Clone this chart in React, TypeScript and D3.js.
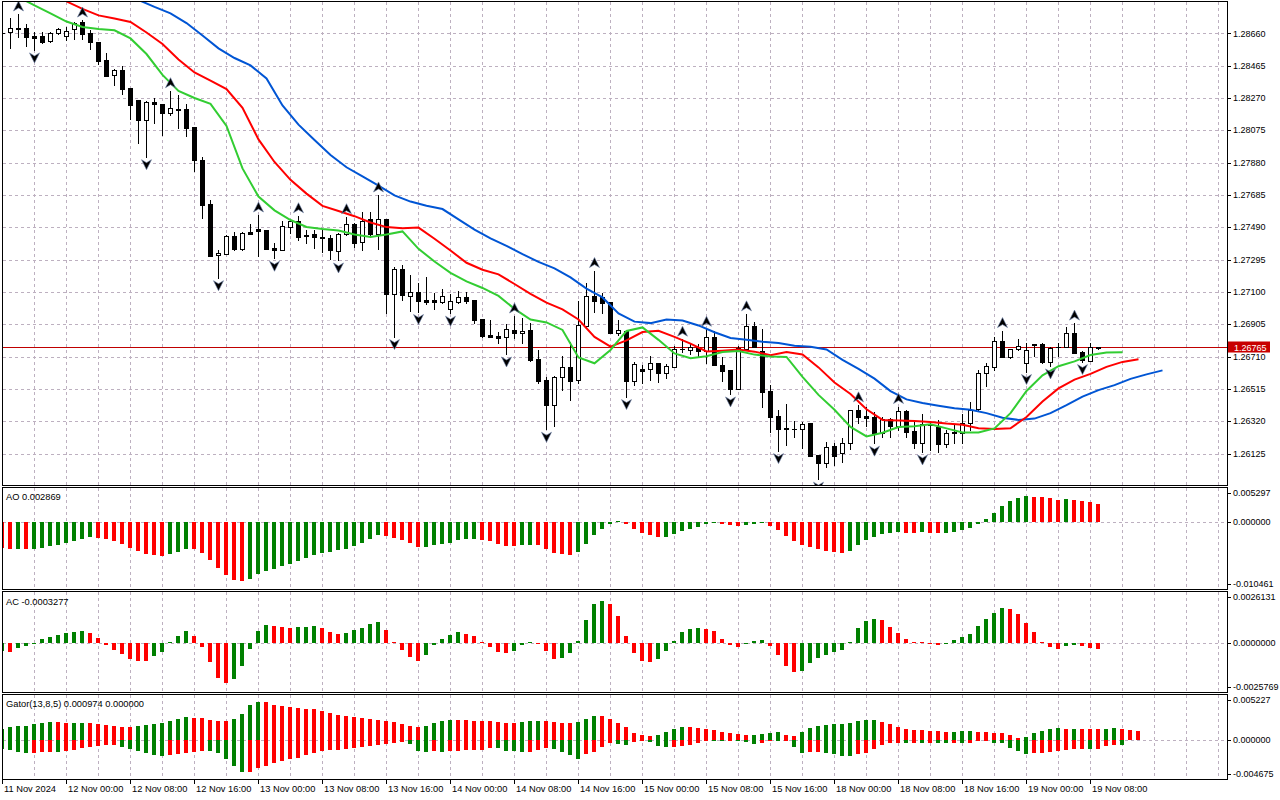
import React from "react";
import * as d3 from "d3";

// H1 bars, 11 Nov 16:00 .. 19 Nov 09:00
const opens = [
  1.28664, 1.28666, 1.28690, 1.28690, 1.28644, 1.28642, 1.28612, 1.28660, 1.28644, 1.28684,
  1.28728, 1.28662, 1.28608, 1.28499, 1.28407, 1.28439, 1.28330, 1.28258, 1.28136, 1.28246,
  1.28234, 1.28181, 1.28204, 1.28204, 1.28095, 1.27896, 1.27631, 1.27322, 1.27331, 1.27438,
  1.27358, 1.27462, 1.27480, 1.27474, 1.27366, 1.27355, 1.27494, 1.27528, 1.27436, 1.27450,
  1.27430, 1.27426, 1.27349, 1.27450, 1.27510, 1.27400, 1.27539, 1.27448, 1.27539, 1.27088,
  1.27239, 1.27078, 1.27098, 1.27052, 1.27052, 1.27038, 1.26998, 1.27042, 1.27068, 1.27052,
  1.26937, 1.26839, 1.26835, 1.26827, 1.26869, 1.26851, 1.26869, 1.26696, 1.26570, 1.26421,
  1.26586, 1.26646, 1.26568, 1.26895, 1.27076, 1.27068, 1.27040, 1.26855, 1.26867, 1.26565,
  1.26636, 1.26634, 1.26672, 1.26614, 1.26646, 1.26755, 1.26750, 1.26770, 1.26746, 1.26827,
  1.26658, 1.26630, 1.26515, 1.26758, 1.26895, 1.26746, 1.26503, 1.26352, 1.26276, 1.26272,
  1.26272, 1.26309, 1.26117, 1.26067, 1.26172, 1.26128, 1.26188, 1.26389, 1.26352, 1.26345,
  1.26252, 1.26333, 1.26292, 1.26381, 1.26260, 1.26188, 1.26301, 1.26288, 1.26184, 1.26256,
  1.26252, 1.26312, 1.26393, 1.26610, 1.26650, 1.26807, 1.26710, 1.26755, 1.26670, 1.26785,
  1.26785, 1.26680, 1.26767, 1.26767, 1.26851, 1.26740, 1.26686, 1.26764,
];
const highs = [
  1.28674, 1.28751, 1.28777, 1.28714, 1.28666, 1.28666, 1.28668, 1.28690, 1.28696, 1.28730,
  1.28740, 1.28680, 1.28608, 1.28543, 1.28443, 1.28463, 1.28330, 1.28258, 1.28254, 1.28268,
  1.28234, 1.28314, 1.28288, 1.28232, 1.28097, 1.27916, 1.27655, 1.27354, 1.27444, 1.27464,
  1.27464, 1.27510, 1.27564, 1.27474, 1.27394, 1.27528, 1.27540, 1.27560, 1.27474, 1.27474,
  1.27474, 1.27444, 1.27454, 1.27554, 1.27514, 1.27584, 1.27583, 1.27685, 1.27539, 1.27253,
  1.27263, 1.27203, 1.27153, 1.27192, 1.27096, 1.27116, 1.27086, 1.27108, 1.27098, 1.27052,
  1.26937, 1.26931, 1.26861, 1.26907, 1.26955, 1.26942, 1.26915, 1.26750, 1.26590, 1.26594,
  1.26714, 1.26799, 1.27044, 1.27156, 1.27229, 1.27092, 1.27040, 1.26931, 1.26867, 1.26680,
  1.26660, 1.26714, 1.26672, 1.26666, 1.26775, 1.26815, 1.26787, 1.26787, 1.26875, 1.26867,
  1.26710, 1.26630, 1.26775, 1.26968, 1.26921, 1.26875, 1.26539, 1.26389, 1.26425, 1.26324,
  1.26318, 1.26312, 1.26117, 1.26192, 1.26188, 1.26218, 1.26389, 1.26419, 1.26409, 1.26378,
  1.26348, 1.26342, 1.26409, 1.26385, 1.26318, 1.26365, 1.26318, 1.26328, 1.26268, 1.26298,
  1.26365, 1.26435, 1.26630, 1.26670, 1.26831, 1.26867, 1.26755, 1.26815, 1.26794, 1.26785,
  1.26794, 1.26770, 1.26794, 1.26891, 1.26912, 1.26746, 1.26794, 1.26770,
];
const lows = [
  1.28650, 1.28573, 1.28640, 1.28585, 1.28560, 1.28600, 1.28608, 1.28658, 1.28620, 1.28624,
  1.28624, 1.28567, 1.28473, 1.28404, 1.28350, 1.28294, 1.28145, 1.28001, 1.27916, 1.28121,
  1.28047, 1.28168, 1.28089, 1.28043, 1.27830, 1.27548, 1.27317, 1.27186, 1.27328, 1.27354,
  1.27354, 1.27452, 1.27317, 1.27361, 1.27303, 1.27354, 1.27454, 1.27414, 1.27398, 1.27367,
  1.27343, 1.27297, 1.27293, 1.27444, 1.27373, 1.27354, 1.27434, 1.27361, 1.26972, 1.26831,
  1.27052, 1.26988, 1.26982, 1.27028, 1.26998, 1.27032, 1.26972, 1.27032, 1.27032, 1.26915,
  1.26827, 1.26827, 1.26794, 1.26726, 1.26823, 1.26794, 1.26686, 1.26553, 1.26272, 1.26292,
  1.26509, 1.26449, 1.26553, 1.26887, 1.26981, 1.26972, 1.26851, 1.26841, 1.26469, 1.26539,
  1.26550, 1.26570, 1.26559, 1.26583, 1.26646, 1.26740, 1.26726, 1.26714, 1.26670, 1.26662,
  1.26565, 1.26485, 1.26515, 1.26758, 1.26767, 1.26405, 1.26258, 1.26143, 1.26178, 1.26228,
  1.26157, 1.26113, 1.25971, 1.26043, 1.26057, 1.26077, 1.26152, 1.26309, 1.26292, 1.26188,
  1.26228, 1.26228, 1.26268, 1.26228, 1.26158, 1.26135, 1.26148, 1.26137, 1.26167, 1.26188,
  1.26188, 1.26268, 1.26389, 1.26533, 1.26630, 1.26710, 1.26700, 1.26750, 1.26620, 1.26714,
  1.26670, 1.26654, 1.26714, 1.26767, 1.26731, 1.26680, 1.26684, 1.26755,
];
const closes = [
  1.28662, 1.28690, 1.28687, 1.28636, 1.28634, 1.28610, 1.28662, 1.28684, 1.28672, 1.28724,
  1.28658, 1.28606, 1.28495, 1.28404, 1.28439, 1.28326, 1.28230, 1.28136, 1.28246, 1.28232,
  1.28181, 1.28208, 1.28200, 1.28091, 1.27896, 1.27627, 1.27317, 1.27334, 1.27438, 1.27358,
  1.27458, 1.27452, 1.27470, 1.27361, 1.27355, 1.27498, 1.27528, 1.27434, 1.27446, 1.27430,
  1.27428, 1.27354, 1.27450, 1.27510, 1.27398, 1.27530, 1.27448, 1.27539, 1.27086, 1.27239,
  1.27079, 1.27098, 1.27048, 1.27038, 1.27038, 1.27076, 1.27046, 1.27068, 1.27048, 1.26931,
  1.26835, 1.26829, 1.26823, 1.26877, 1.26851, 1.26865, 1.26690, 1.26565, 1.26421, 1.26588,
  1.26646, 1.26565, 1.26899, 1.27076, 1.27048, 1.27036, 1.26855, 1.26871, 1.26565, 1.26666,
  1.26624, 1.26672, 1.26614, 1.26652, 1.26755, 1.26753, 1.26770, 1.26746, 1.26827, 1.26662,
  1.26626, 1.26515, 1.26761, 1.26895, 1.26767, 1.26499, 1.26348, 1.26276, 1.26278, 1.26274,
  1.26303, 1.26113, 1.26067, 1.26164, 1.26113, 1.26188, 1.26389, 1.26348, 1.26342, 1.26248,
  1.26333, 1.26292, 1.26381, 1.26258, 1.26188, 1.26304, 1.26295, 1.26184, 1.26248, 1.26248,
  1.26309, 1.26389, 1.26610, 1.26654, 1.26807, 1.26710, 1.26755, 1.26775, 1.26750, 1.26783,
  1.26676, 1.26764, 1.26765, 1.26851, 1.26734, 1.26690, 1.26767, 1.26765,
];
const lastPrice = 1.26765;

// fractal bar indexes
const upFractals = [2, 10, 21, 32, 37, 43, 47, 64, 74, 85, 88, 93, 107, 112, 125, 134];
const downFractals = [4, 18, 27, 34, 42, 49, 52, 56, 63, 68, 78, 91, 97, 102, 109, 115, 128, 131, 135];

// alligator lines, every 2nd bar (already shifted forward)
const jawStart = 17;
const jaw = [
  1.28861, 1.28819, 1.28780, 1.28722, 1.28647, 1.28569, 1.28511, 1.28466, 1.28388, 1.28225,
  1.28109, 1.28016, 1.27926, 1.27852, 1.27797, 1.27741, 1.27682, 1.27645, 1.27620, 1.27600,
  1.27538, 1.27476, 1.27423, 1.27378, 1.27328, 1.27281, 1.27242, 1.27188, 1.27120, 1.27067,
  1.26971, 1.26921, 1.26912, 1.26934, 1.26928, 1.26898, 1.26857, 1.26822, 1.26811, 1.26800,
  1.26792, 1.26776, 1.26769, 1.26753, 1.26690, 1.26636, 1.26577, 1.26502, 1.26452, 1.26430,
  1.26414, 1.26399, 1.26390, 1.26369, 1.26341, 1.26328, 1.26336, 1.26369, 1.26417, 1.26469,
  1.26508, 1.26538, 1.26576, 1.26603, 1.26627,
];
const teethStart = 8;
const teeth = [
  1.28852, 1.28807, 1.28768, 1.28749, 1.28728, 1.28665, 1.28596, 1.28502, 1.28424, 1.28374,
  1.28324, 1.28210, 1.28020, 1.27884, 1.27776, 1.27693, 1.27619, 1.27588, 1.27557, 1.27519,
  1.27491, 1.27484, 1.27488, 1.27421, 1.27350, 1.27276, 1.27234, 1.27206, 1.27148, 1.27089,
  1.27035, 1.26995, 1.26934, 1.26829, 1.26770, 1.26808, 1.26858, 1.26866, 1.26829, 1.26788,
  1.26741, 1.26746, 1.26753, 1.26740, 1.26718, 1.26737, 1.26723, 1.26645, 1.26554, 1.26485,
  1.26392, 1.26328, 1.26325, 1.26322, 1.26316, 1.26306, 1.26299, 1.26278, 1.26273, 1.26278,
  1.26346, 1.26439, 1.26518, 1.26571, 1.26606, 1.26648, 1.26678, 1.26694,
];
const lipsStart = 2;
const lips = [
  1.28879, 1.28828, 1.28780, 1.28731, 1.28698, 1.28686, 1.28678, 1.28629, 1.28535, 1.28409,
  1.28312, 1.28270, 1.28234, 1.28101, 1.27845, 1.27675, 1.27592, 1.27534, 1.27492, 1.27480,
  1.27471, 1.27447, 1.27432, 1.27447, 1.27465, 1.27360, 1.27284, 1.27215, 1.27164, 1.27124,
  1.27076, 1.26998, 1.26934, 1.26916, 1.26871, 1.26705, 1.26670, 1.26750, 1.26865, 1.26886,
  1.26811, 1.26729, 1.26700, 1.26712, 1.26738, 1.26744, 1.26722, 1.26711, 1.26708, 1.26588,
  1.26479, 1.26389, 1.26286, 1.26229, 1.26251, 1.26285, 1.26290, 1.26302, 1.26277, 1.26253,
  1.26252, 1.26277, 1.26369, 1.26503, 1.26597, 1.26652, 1.26681, 1.26720, 1.26735, 1.26737,
];

const ao = [
  -0.004009, -0.004259, -0.004165, -0.004259, -0.004165, -0.004009, -0.003744, -0.003541, -0.003229, -0.002917,
  -0.002605, -0.002293, -0.002449, -0.002605, -0.003011, -0.003385, -0.004009, -0.004477, -0.004945, -0.005148,
  -0.005304, -0.004945, -0.004634, -0.004165, -0.004259, -0.004790, -0.005882, -0.007130, -0.008222, -0.009002,
  -0.009205, -0.008846, -0.008066, -0.007598, -0.007286, -0.006864, -0.006506, -0.006038, -0.005570, -0.005148,
  -0.004790, -0.004634, -0.004415, -0.004165, -0.003697, -0.003229, -0.002605, -0.001981, -0.002184, -0.002496,
  -0.002808, -0.003229, -0.003877, -0.003853, -0.003588, -0.003385, -0.003276, -0.002761, -0.002605, -0.002574,
  -0.002761, -0.002964, -0.003385, -0.003744, -0.003775, -0.003541, -0.003510, -0.003588, -0.004165, -0.004790,
  -0.004992, -0.005102, -0.004680, -0.003385, -0.001981, -0.001045, -0.000203, 0.000203, -0.000203, -0.001045,
  -0.001669, -0.001981, -0.002293, -0.002262, -0.001825, -0.001357, -0.000983, -0.000733, -0.000203, 0.000047,
  -0.000203, -0.000421, -0.000624, -0.000421, -0.000203, -0.000109, -0.000577, -0.001201, -0.002137, -0.002917,
  -0.003588, -0.003853, -0.004165, -0.004446, -0.004634, -0.004790, -0.004477, -0.003541, -0.002855, -0.002293,
  -0.001825, -0.001669, -0.001513, -0.001669, -0.001685, -0.001513, -0.001669, -0.001685, -0.001654, -0.001451,
  -0.001139, -0.000889, -0.000265, 0.000468, 0.001451, 0.002496, 0.003276, 0.003744, 0.004056, 0.004009,
  0.003900, 0.003744, 0.003479, 0.003588, 0.003541, 0.003276, 0.003167, 0.002869,
];

const ac = [
  -0.0004432, -0.0004536, -0.0002577, -0.0001392, 0.0000155, 0.0002062, 0.0003092, 0.0004278, 0.0005309, 0.0005824,
  0.0006185, 0.0005154, 0.0002577, -0.0000876, -0.0003969, -0.0006030, -0.0008607, -0.0009277, -0.0009638, -0.0007061,
  -0.0004999, 0.0000361, 0.0003608, 0.0006185, 0.0003608, -0.0002062, -0.0010153, -0.0018400, -0.0020977, -0.0018915,
  -0.0012215, -0.0002938, 0.0006339, 0.0009277, 0.0008762, 0.0008246, 0.0007731, 0.0008246, 0.0008401, 0.0008762,
  0.0007731, 0.0005824, 0.0004793, 0.0005309, 0.0006855, 0.0007731, 0.0009947, 0.0010978, 0.0006855, 0.0000515,
  -0.0003608, -0.0007216, -0.0009638, -0.0006185, -0.0000876, 0.0002062, 0.0004278, 0.0005824, 0.0004793, 0.0003608,
  0.0000515, -0.0002062, -0.0004639, -0.0005515, -0.0004123, -0.0000876, 0.0000515, -0.0000155, -0.0004123, -0.0008246,
  -0.0007731, -0.0005515, 0.0001031, 0.0011854, 0.0020255, 0.0021647, 0.0020255, 0.0013916, 0.0003608, -0.0005154,
  -0.0009638, -0.0009690, -0.0008246, -0.0004123, 0.0001031, 0.0005669, 0.0007216, 0.0007731, 0.0007216, 0.0006185,
  0.0002062, -0.0000876, -0.0002062, -0.0000361, 0.0001031, 0.0001546, -0.0001546, -0.0006185, -0.0011854, -0.0014947,
  -0.0014431, -0.0010669, -0.0007731, -0.0006185, -0.0004999, -0.0003608, 0.0000670, 0.0007731, 0.0011339, 0.0012370,
  0.0011854, 0.0008246, 0.0005154, 0.0002062, 0.0000670, 0.0000618, -0.0000515, -0.0000876, -0.0000103, 0.0001546,
  0.0003092, 0.0004639, 0.0008762, 0.0012370, 0.0015462, 0.0018039, 0.0017524, 0.0014947, 0.0010308, 0.0005669,
  0.0000670, -0.0001907, -0.0002938, -0.0001392, -0.0000876, -0.0001392, -0.0002422, -0.0003277,
];

const gatorUp = [
  0.001297, 0.001497, 0.001568, 0.001568, 0.001804, 0.001921, 0.002039, 0.002039, 0.001921, 0.001921,
  0.001921, 0.001921, 0.001804, 0.001686, 0.001568, 0.001497, 0.001497, 0.001568, 0.001733, 0.001804,
  0.001921, 0.002157, 0.002440, 0.002629, 0.002558, 0.002558, 0.002275, 0.002157, 0.002157, 0.002440,
  0.003030, 0.004126, 0.004397, 0.004397, 0.004126, 0.004008, 0.003855, 0.003737, 0.003619, 0.003619,
  0.003336, 0.003147, 0.002864, 0.002747, 0.002629, 0.002558, 0.002440, 0.002358, 0.002157, 0.002039,
  0.001804, 0.001568, 0.001497, 0.001568, 0.001921, 0.002157, 0.002275, 0.002275, 0.002275, 0.002157,
  0.002157, 0.002157, 0.002039, 0.001921, 0.001921, 0.002039, 0.002157, 0.002157, 0.002157, 0.002039,
  0.001921, 0.001921, 0.002039, 0.002440, 0.002747, 0.002747, 0.002440, 0.001921, 0.001497, 0.000743,
  0.000507, 0.000389, 0.000507, 0.000861, 0.001214, 0.001450, 0.001450, 0.001332, 0.001214, 0.001096,
  0.000861, 0.000743, 0.000625, 0.000507, 0.000507, 0.000625, 0.000743, 0.000861, 0.000507, 0.000389,
  0.000861, 0.001332, 0.001568, 0.001686, 0.001804, 0.001804, 0.001921, 0.002157, 0.002275, 0.002275,
  0.002039, 0.001804, 0.001450, 0.001214, 0.001096, 0.001096, 0.000978, 0.000978, 0.000861, 0.000861,
  0.000978, 0.000978, 0.000861, 0.000861, 0.000743, 0.000743, 0.000507, 0.000153, 0.000271, 0.000743,
  0.000978, 0.001214, 0.001332, 0.001214, 0.001214, 0.001214, 0.001214, 0.001214, 0.001214, 0.001332,
  0.001214, 0.001096, 0.000974,
];
const gatorUpColors =
  "ggggggg" + "rrggrrrrrr" + "ggggggg" + "rrrrr" + "gggg" + "rrrrrrrrrrrrrrrrrrrr" + "gggg" +
  "rrrrrrrr" + "ggg" + "rrrr" + "ggg" + "rrrrrrr" + "gggg" + "rrrrrrrr" + "gggg" + "rr" +
  "gggggggggg" + "rrrrrrrrr" + "ggg" + "rrrrrr" + "ggggg" + "rgrrrggrrr";

const gatorDown = [
  -0.001061, -0.001261, -0.001450, -0.001568, -0.001568, -0.001450, -0.001450, -0.001450, -0.001379, -0.001179,
  -0.000978, -0.000861, -0.000790, -0.000625, -0.000625, -0.000861, -0.001096, -0.001379, -0.001568, -0.001886,
  -0.001969, -0.001886, -0.001768, -0.001568, -0.001450, -0.001379, -0.001379, -0.001650, -0.002275, -0.003147,
  -0.003855, -0.003855, -0.003336, -0.003147, -0.002747, -0.002558, -0.002358, -0.002157, -0.001886, -0.001568,
  -0.001379, -0.001261, -0.001179, -0.001096, -0.000978, -0.000861, -0.000707, -0.000625, -0.000507, -0.000389,
  -0.000318, -0.000507, -0.001379, -0.001450, -0.001379, -0.001450, -0.001379, -0.001379, -0.001261, -0.001261,
  -0.001179, -0.000978, -0.000978, -0.001379, -0.001379, -0.001450, -0.001450, -0.001179, -0.000978, -0.001096,
  -0.001450, -0.001886, -0.002275, -0.001768, -0.001450, -0.000861, -0.000389, -0.000507, -0.000625, -0.000318,
  -0.000200, -0.000271, -0.000743, -0.000861, -0.000861, -0.000743, -0.000625, -0.000389, -0.000200, -0.000083,
  -0.000083, -0.000083, -0.000200, -0.000271, -0.000507, -0.000389, -0.000083, -0.000200, -0.000083, -0.000861,
  -0.001568, -0.001450, -0.001450, -0.001568, -0.001686, -0.001921, -0.001921, -0.001686, -0.001568, -0.001096,
  -0.000625, -0.000389, -0.000389, -0.000389, -0.000389, -0.000389, -0.000389, -0.000389, -0.000389, -0.000389,
  -0.000389, -0.000389, -0.000200, -0.000118, -0.000389, -0.000389, -0.000978, -0.001332, -0.001686, -0.001568,
  -0.001568, -0.001450, -0.001332, -0.001214, -0.001096, -0.001096, -0.001096, -0.001096, -0.000743, -0.000625,
  -0.000625,
];
const gatorDownColors =
  "gggg" + "rrr" + "g" + "rrrrrrr" + "gggggg" + "rrrrr" + "ggggg" + "rrrrrrrrrrrrrrrrrrrr" + "ggg" +
  "r" + "g" + "rrrrrr" + "gggg" + "rrr" + "gggg" + "rrrr" + "gg" + "rr" + "ggg" + "rrrrr" + "gg" +
  "r" + "ggg" + "rr" + "g" + "r" + "gg" + "rr" + "gggg" + "rrrrrr" + "g" + "r" + "g" + "r" + "gg" +
  "r" + "g" + "rrr" + "ggggg" + "rrrrrrr" + "g" + "rrr" + "g";

const priceTicks = [
  1.2866, 1.28465, 1.2827, 1.28075, 1.2788, 1.27685, 1.2749, 1.27295, 1.271, 1.26905,
  1.2671, 1.26515, 1.2632, 1.26125,
];
const aoTicks = [0.005297, 0, -0.010461];
const aoTickText = ["0.005297", "0.000000", "-0.010461"];
const acTicks = [0.0026131, 0, -0.0025769];
const acTickText = ["0.0026131", "0.0000000", "-0.0025769"];
const gatorTicks = [0.005227, 0, -0.004675];
const gatorTickText = ["0.005227", "0.000000", "-0.004675"];

const timeLabels = [
  "11 Nov 2024", "12 Nov 00:00", "12 Nov 08:00", "12 Nov 16:00", "13 Nov 00:00", "13 Nov 08:00",
  "13 Nov 16:00", "14 Nov 00:00", "14 Nov 08:00", "14 Nov 16:00", "15 Nov 00:00", "15 Nov 08:00",
  "15 Nov 16:00", "18 Nov 00:00", "18 Nov 08:00", "18 Nov 16:00", "19 Nov 00:00", "19 Nov 08:00",
];

const GREEN = "#008000";
const RED = "#ff0000";
const GRID = "#bdb0c0";
const FONT = "'Liberation Sans', Arial, sans-serif";
const FS = 9.3;
const AXIS_FS = 9;
const AXIS_X = 1233;

const LEFT = 2;
const RIGHT = 1227;

export default function App() {
  const x = d3.scaleLinear().domain([0, 137]).range([2, 1098]);
  const y = d3.scaleLinear().domain([1.26125, 1.2866]).range([453.6, 33.3]);
  const yAO = d3.scaleLinear().domain([-0.010461, 0.005297]).range([589, 488.5]);
  const yAC = d3.scaleLinear().domain([-0.0025769, 0.0026131]).range([692.5, 592.5]);
  const yGator = d3.scaleLinear().domain([-0.004675, 0.005227]).range([779, 695.5]);

  const cx = (k: number) => Math.round(x(k));
  const crisp = (v: number) => Math.round(v) + 0.5;

  const gridKs = d3.range(4, 153, 4);

  const panels = [
    { top: 1, bottom: 485 },
    { top: 487, bottom: 589 },
    { top: 591, bottom: 692 },
    { top: 694, bottom: 779 },
  ];

  const line = (start: number) =>
    d3
      .line<number>()
      .x((_, i) => x(start + i * 2) + 0.5)
      .y((d) => y(d));

  const bars = (
    values: number[],
    scale: d3.ScaleLinear<number, number>,
    color: (i: number) => string,
    key: string
  ) => {
    const y0 = Math.round(scale(0));
    return values.map((v, i) => {
      const yv = Math.round(scale(v));
      const top = Math.min(y0, yv);
      const h = Math.max(1, Math.abs(yv - y0));
      return (
        <rect key={key + i} x={cx(i) - 2} y={top} width={4} height={h} fill={color(i)} />
      );
    });
  };

  const trendColor = (values: number[], first: string) => (i: number) =>
    i === 0 ? first : values[i] > values[i - 1] ? GREEN : RED;

  const axisLabels = (
    ticks: number[],
    text: string[],
    scale: d3.ScaleLinear<number, number>,
    top: number,
    bottom: number,
    key: string
  ) =>
    ticks.map((t, i) => {
      const yy = Math.min(bottom - 5, Math.max(top + 5, scale(t)));
      return (
        <g key={key + i}>
          <line x1={RIGHT} x2={RIGHT + 4} y1={crisp(yy)} y2={crisp(yy)} stroke="#000" />
          <text x={AXIS_X} y={yy + 3.2} fontSize={AXIS_FS} fontFamily={FONT} fill="#000">
            {text[i]}
          </text>
        </g>
      );
    });

  const lastY = crisp(y(lastPrice));

  return (
    <div style={{ position: "absolute", left: 0, top: 0 }}>
      <svg width={1280} height={800} style={{ display: "block", background: "#fff" }}>
        <defs>
          <clipPath id="mainClip">
            <rect x={LEFT + 1} y={2} width={RIGHT - LEFT - 1} height={483} />
          </clipPath>
          <clipPath id="subClip">
            <rect x={LEFT + 1} y={487} width={RIGHT - LEFT - 1} height={293} />
          </clipPath>
        </defs>

        {/* grid */}
        <g stroke={GRID} strokeDasharray="3,3" shapeRendering="crispEdges">
          {panels.map((p, pi) =>
            gridKs
              .filter((k) => x(k) < RIGHT)
              .map((k) => (
                <line
                  key={`v${pi}-${k}`}
                  x1={crisp(x(k))}
                  x2={crisp(x(k))}
                  y1={p.top + 1}
                  y2={p.bottom}
                />
              ))
          )}
          {priceTicks.map((p) => (
            <line key={`h${p}`} x1={LEFT + 1} x2={RIGHT} y1={crisp(y(p))} y2={crisp(y(p))} />
          ))}
          {[yAO, yAC, yGator].map((s, i) => (
            <line key={`z${i}`} x1={LEFT + 1} x2={RIGHT} y1={crisp(s(0))} y2={crisp(s(0))} />
          ))}
        </g>

        {/* main chart */}
        <g clipPath="url(#mainClip)">
          <line x1={LEFT} x2={RIGHT} y1={lastY} y2={lastY} stroke="#c00000" strokeWidth={1} />

          <g shapeRendering="crispEdges">
            {opens.map((o, k) => {
              const c = closes[k];
              const px = cx(k);
              const yO = Math.round(y(o));
              const yC = Math.round(y(c));
              const bull = c >= o;
              const top = Math.min(yO, yC);
              const bot = Math.max(yO, yC);
              return (
                <g key={`c${k}`}>
                  <line
                    x1={px + 0.5}
                    x2={px + 0.5}
                    y1={Math.round(y(highs[k]))}
                    y2={Math.round(y(lows[k])) + 1}
                    stroke="#000"
                  />
                  {bot - top < 1 ? (
                    <line x1={px - 2} x2={px + 3} y1={top + 0.5} y2={top + 0.5} stroke="#000" />
                  ) : (
                    <rect
                      x={px - 1.5}
                      y={top + 0.5}
                      width={4}
                      height={bot - top}
                      fill={bull ? "#fff" : "#000"}
                      stroke="#000"
                    />
                  )}
                </g>
              );
            })}
          </g>

          <path d={line(jawStart)(jaw) || ""} fill="none" stroke="#0055d4" strokeWidth={2} />
          <path d={line(teethStart)(teeth) || ""} fill="none" stroke="#ff0000" strokeWidth={2} />
          <path d={line(lipsStart)(lips) || ""} fill="none" stroke="#32cd32" strokeWidth={2} />

          {upFractals.map((k) => {
            const ax = cx(k) + 0.5;
            const yb = y(highs[k]) - 3;
            return (
              <path
                key={`fu${k}`}
                d={`M${ax},${yb - 10}L${ax + 5},${yb}L${ax},${yb - 3}L${ax - 5},${yb}Z`}
                fill="#000"
                stroke="#6b7fa8"
                strokeWidth={0.6}
              />
            );
          })}
          {downFractals.map((k) => {
            const ax = cx(k) + 0.5;
            const yt = y(lows[k]) + 3;
            return (
              <path
                key={`fd${k}`}
                d={`M${ax},${yt + 10}L${ax + 5},${yt}L${ax},${yt + 3}L${ax - 5},${yt}Z`}
                fill="#000"
                stroke="#6b7fa8"
                strokeWidth={0.6}
              />
            );
          })}
        </g>

        {/* oscillators */}
        <g clipPath="url(#subClip)" shapeRendering="crispEdges">
          {bars(ao, yAO, trendColor(ao, RED), "ao")}
          {bars(ac, yAC, trendColor(ac, GREEN), "ac")}
          {bars(gatorUp, yGator, (i) => (gatorUpColors[i] === "g" ? GREEN : RED), "gu")}
          {bars(gatorDown, yGator, (i) => (gatorDownColors[i] === "g" ? GREEN : RED), "gd")}
        </g>

        {/* panel frames */}
        <g fill="none" stroke="#000" shapeRendering="crispEdges">
          {panels.map((p, i) => (
            <rect key={`f${i}`} x={LEFT + 0.5} y={p.top + 0.5} width={RIGHT - LEFT} height={p.bottom - p.top} />
          ))}
        </g>

        {/* panel titles */}
        <g fontFamily={FONT} fontSize={FS} fill="#000">
          <text x={6} y={499.5}>AO 0.002869</text>
          <text x={6} y={605}>AC -0.0003277</text>
          <text x={6} y={707}>Gator(13,8,5) 0.000974 0.000000</text>
        </g>

        {/* price axis */}
        {priceTicks.map((p) => (
          <g key={`pt${p}`}>
            <line x1={RIGHT} x2={RIGHT + 4} y1={crisp(y(p))} y2={crisp(y(p))} stroke="#000" />
            <text x={AXIS_X} y={y(p) + 3.2} fontSize={AXIS_FS} fontFamily={FONT} fill="#000">
              {p.toFixed(5)}
            </text>
          </g>
        ))}
        <rect x={RIGHT + 1} y={lastY - 6} width={42} height={11} fill="#c80000" />
        <text x={AXIS_X + 1} y={lastY + 3.2} fontSize={AXIS_FS} fontFamily={FONT} fill="#fff">
          {lastPrice.toFixed(5)}
        </text>

        {axisLabels(aoTicks, aoTickText, yAO, 488, 589, "aol")}
        {axisLabels(acTicks, acTickText, yAC, 592, 692, "acl")}
        {axisLabels(gatorTicks, gatorTickText, yGator, 695, 779, "gl")}

        {/* time axis */}
        {timeLabels.map((t, i) => {
          const tx = crisp(x(i * 8));
          return (
            <g key={`t${i}`}>
              <line x1={tx} x2={tx} y1={780} y2={784} stroke="#000" />
              <text x={tx + 1.5} y={792} fontSize={FS} fontFamily={FONT} fill="#000">
                {t}
              </text>
            </g>
          );
        })}
      </svg>
    </div>
  );
}
